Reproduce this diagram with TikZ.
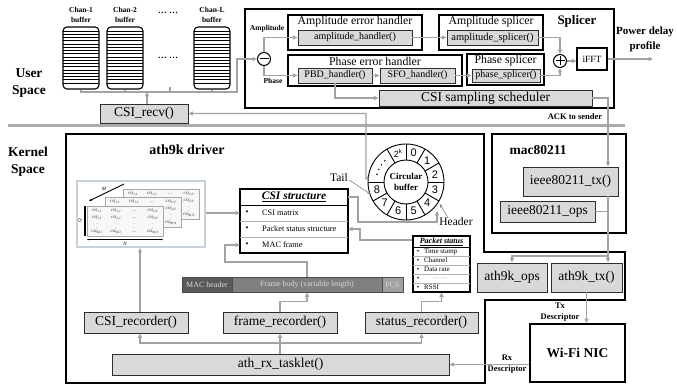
\documentclass[tikz,border=0pt]{standalone}
\usepackage{fontspec}
\setmainfont{Liberation Serif}
\newfontfamily\ringfont{Liberation Sans}
\usetikzlibrary{arrows.meta,calc}
\definecolor{cgray}{HTML}{A3A3A3}
\definecolor{bfill}{HTML}{D9D9D9}
\definecolor{bdraw}{HTML}{2E2E2E}
\definecolor{machd}{HTML}{595959}
\definecolor{fbodyc}{HTML}{7F7F7F}
\definecolor{fcsc}{HTML}{A0A0A0}
\definecolor{imgfr}{HTML}{C9D1DA}
\newcommand{\fs}[1]{\fontsize{#1}{#1}\selectfont}
\newcommand{\fsl}[2]{\fontsize{#1}{#2}\selectfont}
\newcommand{\cs}[1]{\textit{csi}\textsubscript{\textit{#1}}}
\newcommand{\csiback}[2]{%
  \draw[draw=gray!70,fill=gray!6,line width=0.5pt] (#1,#2) rectangle (#1+76,#2+30);
  \node[mtx] at (#1+10,#2+5) {\cs{1,1}};
  \node[mtx] at (#1+29,#2+5) {\cs{1,2}};
  \node[mtx] at (#1+47,#2+5) {\dots};
  \node[mtx] at (#1+66,#2+5) {\cs{1,N}};
  \node[mtx] at (#1+66,#2+12) {\cs{2,N}};
  \node[mtx] at (#1+66,#2+19) {\vdots};
  \node[mtx] at (#1+66,#2+26) {\cs{M,N}};
}
\newcommand{\csimat}[2]{%
  \draw[draw=gray!70,fill=gray!6,line width=0.5pt] (#1,#2) rectangle (#1+76,#2+30);
  \node[mtx] at (#1+10,#2+5) {\cs{1,1}};
  \node[mtx] at (#1+29,#2+5) {\cs{1,2}};
  \node[mtx] at (#1+47,#2+5) {\dots};
  \node[mtx] at (#1+66,#2+5) {\cs{1,N}};
  \node[mtx] at (#1+10,#2+12) {\cs{2,1}};
  \node[mtx] at (#1+29,#2+12) {\cs{2,2}};
  \node[mtx] at (#1+47,#2+12) {\dots};
  \node[mtx] at (#1+66,#2+12) {\cs{2,N}};
  \node[mtx] at (#1+10,#2+19) {\vdots};
  \node[mtx] at (#1+29,#2+19) {\vdots};
  \node[mtx] at (#1+47,#2+19) {\vdots};
  \node[mtx] at (#1+66,#2+19) {\vdots};
  \node[mtx] at (#1+10,#2+26) {\cs{M,1}};
  \node[mtx] at (#1+29,#2+26) {\cs{M,2}};
  \node[mtx] at (#1+47,#2+26) {\dots};
  \node[mtx] at (#1+66,#2+26) {\cs{M,N}};
}
\begin{document}
\begin{tikzpicture}[x=1pt,y=-1pt,
  conn/.style={draw=cgray,line width=1.1pt},
  arr/.style={conn,-{Triangle[length=4.5pt,width=4pt]}},
  fbox/.style={draw=bdraw,fill=bfill,line width=0.9pt,inner sep=0pt},
  grp/.style={draw=black,fill=white,line width=1.4pt,inner sep=0pt},
  txt/.style={inner sep=0pt},
  mtx/.style={inner sep=0pt,font=\fsl{4.8}{2},text=gray!40!black},
  thinarr/.style={draw=gray,line width=0.6pt,-{Stealth[length=4pt,width=3pt]}}]
\useasboundingbox (0,0) rectangle (677,387);

% ---------------- user space ----------------
\node[txt,font=\bfseries\fsl{13.5}{17},align=center] (userlbl) at (29,83) {User\\Space};
\node[txt,font=\bfseries\fsl{13.5}{17},align=center] (kernlbl) at (28,161.5) {Kernel\\Space};

\foreach \bx in {63,107,194} {
  \foreach \k in {0,...,16} \draw[line width=0.7pt] (\bx,31+3.25*\k) -- (\bx+36,31+3.25*\k);
}
\node[draw=black,line width=1.1pt,rounded corners=4pt,minimum width=36pt,minimum height=62pt,inner sep=0pt] (buf1) at (81,58) {};
\node[draw=black,line width=1.1pt,rounded corners=4pt,minimum width=36pt,minimum height=62pt,inner sep=0pt] (buf2) at (125,58) {};
\node[draw=black,line width=1.1pt,rounded corners=4pt,minimum width=36pt,minimum height=62pt,inner sep=0pt] (bufL) at (212,58) {};
\node[txt,font=\bfseries\fsl{7.5}{10},align=center] (lb1) at (81,15) {Chan-1\\buffer};
\node[txt,font=\bfseries\fsl{7.5}{10},align=center] (lb2) at (125,15) {Chan-2\\buffer};
\node[txt,font=\bfseries\fsl{7.5}{10},align=center] (lbL) at (212,15) {Chan-L\\buffer};
\node[txt,font=\bfseries\fs{9}] (dots1) at (168,13) {\dots\ \dots};
\node[txt,font=\bfseries\fs{9}] (dots2) at (168,58) {\dots\ \dots};

\node[fbox,minimum width=88pt,minimum height=19pt,font=\fs{13.5}] (recv) at (144,113.5) {CSI\_recv()};

% ---------------- splicer ----------------
\node[grp,line width=1.8pt,minimum width=369pt,minimum height=99pt] (splicer) at (429.5,58.5) {};
\node[txt,font=\bfseries\fs{13}] (splt) at (577,21) {Splicer};

\node[circle,draw=black,line width=1pt,minimum size=13pt,inner sep=0pt] (minus) at (264,59) {};
\draw[line width=1pt] ($(minus)+(-4.5,0)$) -- ($(minus)+(4.5,0)$);
\node[txt,font=\bfseries\fs{7.5}] (amplbl) at (267,29) {Amplitude};
\node[txt,font=\bfseries\fs{7.5}] (phlbl) at (273,81) {Phase};

\node[grp,minimum width=134pt,minimum height=35pt] (aeh) at (355,32.5) {};
\node[txt,font=\fs{11.8}] (aeht) at (355,22) {Amplitude error handler};
\node[fbox,minimum width=114pt,minimum height=15pt,font=\fs{10}] (amph) at (355,37.5) {amplitude\_handler()};

\node[grp,minimum width=104pt,minimum height=35pt] (asp) at (491,32.5) {};
\node[txt,font=\fs{11.8}] (aspt) at (491,22) {Amplitude splicer};
\node[fbox,minimum width=91pt,minimum height=15pt,font=\fs{10.5}] (amps) at (492.5,37.5) {amplitude\_splicer()};

\node[grp,minimum width=174pt,minimum height=31pt] (peh) at (375,70.5) {};
\node[txt,font=\fs{11.8}] (peht) at (375,61.5) {Phase error handler};
\node[fbox,minimum width=74pt,minimum height=15pt,font=\fs{10}] (pbd) at (335,75.5) {PBD\_handler()};
\node[fbox,minimum width=75pt,minimum height=15pt,font=\fs{10}] (sfo) at (417.5,75.5) {SFO\_handler()};

\node[grp,minimum width=77pt,minimum height=31pt] (psp) at (505.5,69.5) {};
\node[txt,font=\fs{11.8}] (pspt) at (505.5,61) {Phase splicer};
\node[fbox,minimum width=68pt,minimum height=13pt,font=\fs{10}] (phs) at (506,75.5) {phase\_splicer()};

\node[circle,draw=black,line width=1pt,minimum size=13pt,inner sep=0pt] (plus) at (560,61) {};
\draw[line width=1pt] ($(plus)+(-4.5,0)$) -- ($(plus)+(4.5,0)$);
\draw[line width=1pt] ($(plus)+(0,-4.5)$) -- ($(plus)+(0,4.5)$);
\node[draw=black,line width=1.1pt,fill=white,minimum width=30pt,minimum height=22pt,inner sep=0pt,font=\fs{9.5}] (ifft) at (592,59) {iFFT};
\coordinate (pdp) at (653,59);
\node[txt,font=\bfseries\fsl{11}{15},align=center] (pdpl) at (645,39.5) {Power delay\\profile};

\node[fbox,minimum width=213pt,minimum height=16pt,font=\fs{13.5}] (sched) at (485.5,98) {CSI sampling scheduler};

\draw[arr] (minus.north) |- (amph.west);
\draw[arr] (minus.south) |- (pbd.west);
\draw[arr] (amph.east) -- (amps.west);
\draw[arr] (pbd.east) -- (sfo.west);
\draw[arr] (sfo.east) -- (phs.west);
\draw[arr] (amps.east) -| (plus.north);
\draw[arr] (phs.east) -| (plus.south);
\draw[arr] (plus.east) -- (plus.east -| ifft.west);
\draw[arr] (ifft.east |- pdp) -- (pdp);
\draw[arr] (pbd.south) |- (sched.west);

% bus to splicer
\coordinate (busR) at (237,92);
\coordinate (dtick) at (170,87);
\draw[arr] (buf1.south) |- (busR) |- (minus.west);
\draw[conn] (buf2.south) -- (buf2.south |- busR);
\draw[conn] (dtick) -- (dtick |- busR);
\draw[conn] (bufL.south) -- (bufL.south |- busR);
\draw[arr] ([xshift=3pt]recv.north) -- ([xshift=3pt]recv.north |- busR);

% separator
\draw[line width=3pt,draw=cgray!90] (8,126) -- (625,126);

\node[txt,font=\bfseries\fs{8.5}] (ackl) at (575,117) {ACK to sender};

% ---------------- kernel ----------------
\draw[line width=1.8pt] (66,134) -- (484,134) -- (484,252) -- (625,252) -- (625,300) -- (485,300) -- (485,383) -- (66,383) -- cycle;
\node[txt,font=\bfseries\fs{14}] (athl) at (187,150) {ath9k driver};

\node[grp,line width=1.8pt,minimum width=134pt,minimum height=99pt] (mac) at (559,183.5) {};
\node[txt,font=\bfseries\fs{13.5}] (macl) at (538,150) {mac80211};
\node[fbox,minimum width=95pt,minimum height=29pt,font=\fs{13.5}] (ieeetx) at (570.5,181.5) {ieee80211\_tx()};
\node[fbox,minimum width=95pt,minimum height=21pt,font=\fs{13.5}] (ieeeops) at (547.5,211.5) {ieee80211\_ops};

\node[fbox,minimum width=70pt,minimum height=29pt,font=\fs{13.5}] (a9ops) at (512,277.5) {ath9k\_ops};
\node[fbox,minimum width=71pt,minimum height=29pt,font=\fs{13.5}] (a9tx) at (586.5,277.5) {ath9k\_tx()};

\node[grp,line width=1.8pt,minimum width=95pt,minimum height=58pt,font=\bfseries\fs{13.5}] (wifi) at (577.5,353) {Wi-Fi NIC};
\node[txt,font=\bfseries\fsl{8.5}{11},align=center] (txl) at (560,312.5) {Tx\\Descriptor};
\node[txt,font=\bfseries\fsl{8.5}{11},align=center] (rxl) at (507,364.5) {Rx\\Descriptor};

\coordinate (ackc) at (608,98);
\coordinate (br) at (608,256);
\draw[arr] (sched.east) -- (ackc) -- (ackc |- ieeetx.north);
\draw[conn] (ieeeops.east) -- (ieeeops.east -| ackc);
\draw[arr] (ieeetx.south -| ackc) -- (ackc |- a9tx.north);
\draw[arr] (br) -| (a9ops.north);
\draw[arr] (a9tx.south) -- (a9tx.south |- wifi.north);

\node[fbox,minimum width=337pt,minimum height=21pt,font=\fs{13.5}] (tasklet) at (280.5,364.5) {ath\_rx\_tasklet()};
\node[fbox,minimum width=104pt,minimum height=21pt,font=\fs{13.5}] (csirec) at (136,322.5) {CSI\_recorder()};
\node[fbox,minimum width=114pt,minimum height=21pt,font=\fs{13.5}] (framerec) at (280,322.5) {frame\_recorder()};
\node[fbox,minimum width=113pt,minimum height=21pt,font=\fs{13.5}] (statusrec) at (421.5,322.5) {status\_recorder()};

\draw[arr] (wifi.west |- tasklet.east) -- (tasklet.east);
\coordinate (tb) at (280,343);
\draw[arr] (framerec.south |- tasklet.north) -- (framerec.south);
\draw[arr] (tb) -| ([xshift=4pt]csirec.south);
\draw[arr] (tb) -| (statusrec.south);

% frame bar
\node[fill=machd,draw=black!70,line width=0.5pt,minimum width=50pt,minimum height=15pt,inner sep=0pt,font=\fs{8},text=white!85!black] (mach) at (207,284.5) {MAC header};
\node[fill=fbodyc,draw=black!70,line width=0.5pt,minimum width=150pt,minimum height=15pt,inner sep=0pt,font=\fs{8},text=white!85!black] (fbody) at (307,284.5) {Frame body (variable length)};
\node[fill=fcsc,draw=black!70,line width=0.5pt,minimum width=21pt,minimum height=15pt,inner sep=0pt,font=\fs{8},text=white!85!black] (fcs) at (392.5,284.5) {FCS};

% matrix image
\node[draw=imgfr,line width=2pt,fill=white,minimum width=128pt,minimum height=66pt,inner sep=0pt] (mimg) at (141,214) {};
\csiback{123}{189}
\csiback{105}{197}
\csimat{87}{206}
\draw[line width=0.9pt,-{Stealth[length=3pt,width=2.5pt]}] (124,184) -- (89,201);
\node[txt,font=\itshape\fs{5}] (mlab) at (104,189) {M};
\draw[line width=1.5pt] (85,206) -- (85,236);
\node[txt,font=\itshape\fs{5},rotate=90] (qlab) at (80,221) {Q};
\draw[line width=0.6pt,{Stealth[length=2pt]}-{Stealth[length=2pt]}] (87,239.5) -- (163,239.5);
\node[txt,font=\itshape\fs{5}] (nlab) at (125,243.5) {N};

% CSI structure
\node[draw=black,line width=1.2pt,fill=white,minimum width=108pt,minimum height=64pt,inner sep=0pt] (csis) at (294,221) {};
\draw[line width=0.8pt] (240,205) -- (348,205);
\draw[draw=gray!60,line width=0.5pt] (240,221) -- (348,221);
\draw[draw=gray!60,line width=0.5pt] (240,237) -- (348,237);
\node[txt,font=\bfseries\itshape\fs{11.5}] (csist) at (294,197) {\underline{CSI structure}};
\coordinate (rowA) at (240,213);
\coordinate (rowBe) at (348,229);
\coordinate (rowC) at (240,245);
\coordinate (rowTe) at (348,197);
\node[txt,font=\fs{8.3}] (bA) at (247,213) {\textbullet};
\node[txt,font=\fs{8.3}] (bB) at (247,229) {\textbullet};
\node[txt,font=\fs{8.3}] (bC) at (247,245) {\textbullet};
\node[txt,font=\fs{8.3},anchor=west] (tA) at (262,213) {CSI matrix};
\node[txt,font=\fs{8.3},anchor=west] (tB) at (262,229) {Packet status structure};
\node[txt,font=\fs{8.3},anchor=west] (tC) at (262,245) {MAC frame};

% Packet status
\node[draw=black,line width=1.1pt,fill=white,minimum width=57pt,minimum height=56pt,inner sep=0pt] (pstat) at (441.5,264) {};
\draw[line width=0.7pt] (413,247) -- (470,247);
\foreach \yy in {256,265,274,283} \draw[draw=gray!60,line width=0.4pt] (413,\yy) -- (470,\yy);
\node[txt,font=\bfseries\itshape\fs{8}] (pstt) at (441.5,241.5) {\underline{Packet status}};
\foreach \yy/\lab in {251.5/Time stamp,260.5/Channel,269.5/Data rate,287.5/RSSI} {
  \node[txt,font=\fs{7}] at (418,\yy) {\textbullet};
  \node[txt,font=\fs{7},anchor=west] at (424,\yy) {\lab};
}
\node[txt,font=\fs{7}] (pdb) at (418,278.5) {\textbullet};
\node[txt,font=\fs{6},text=gray] (pdt) at (440,278) {\dots\ \dots};

% circular buffer
\coordinate (ring) at (406,182);
\begin{scope}[shift={(ring)}]
  \draw[line width=0.9pt] (0,0) circle[radius=38pt];
  \draw[line width=0.9pt] (0,0) circle[radius=22pt];
  \foreach \a in {90,60,30,0,-30,-60,-90,-120,-150,180,120} \draw[line width=0.9pt] (\a:22pt) -- (\a:38pt);
  \foreach \a/\lab in {75/0,45/1,15/2,-15/3,-45/4,-75/5,-105/6,-135/7,-165/8} \node[txt,font=\ringfont\fs{11}] at (\a:30pt) {\lab};
  \node[txt,font=\ringfont\fs{9}] at (105:30pt) {2\textsuperscript{k}};
  \foreach \a in {135,145,155,165} \fill (\a:30pt) circle[radius=0.8pt];
  \node[txt,font=\bfseries\fsl{9}{11.5},align=center] (cbuf) at (0,0) {Circular\\buffer};
\end{scope}
\coordinate (ringw) at ($(ring)+(172:38pt)$);
\coordinate (ringin) at (437,211);
\node[txt,font=\fs{11.5}] (tail) at (339,178) {Tail};
\node[txt,font=\fs{11.5}] (header) at (456,222) {Header};
\draw[thinarr] ([xshift=1pt,yshift=-2pt]tail.east) -- ($(ring)+(-160:37pt)$);
\draw[thinarr] ([xshift=-8pt]header.north) -- ($(ring)+(-33:40pt)$);

% kernel connectors
\draw[arr] ([xshift=4pt]csirec.north) -- ([xshift=4pt]csirec.north |- mimg.south);
\draw[arr] (mimg.east |- rowA) -- (rowA);
\draw[arr] (framerec.north) -- ++(0,-10) -| (fbody.south);
\draw[arr] (fbody.north) |- (225,262) |- (rowC);
\draw[arr] (statusrec.north) -- ++(0,-10) -| (pstat.south);
\draw[arr] ([yshift=24pt]pstat.west) -- (360,240) |- (rowBe);
\draw[arr] (rowTe) -- (358,197) |- (437,222) -- (ringin);
\draw[arr] (ringw) -- (366,178.7) |- (recv.east);
\end{tikzpicture}
\end{document}
